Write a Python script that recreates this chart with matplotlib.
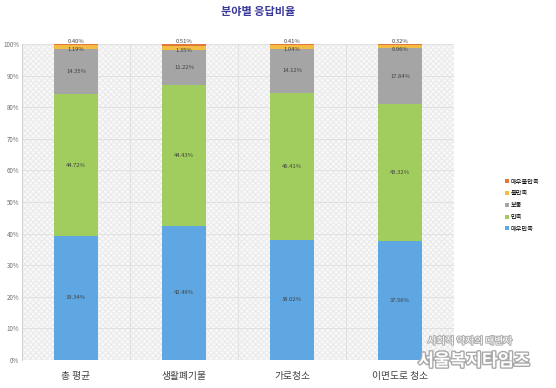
import matplotlib.pyplot as plt
import matplotlib.patheffects as pe
import numpy as np

plt.rcParams['font.family'] = ['Noto Sans CJK KR', 'DejaVu Sans']

categories = ["총 평균", "생활폐기물", "가로청소", "이면도로 청소"]
series_names = ["매우만족", "만족", "보통", "불만족", "매우불만족"]
very_satisfied = [39.34, 42.49, 38.02, 37.56]
satisfied = [44.72, 44.43, 46.41, 43.32]
neutral = [14.35, 11.22, 14.12, 17.84]
dissatisfied = [1.19, 1.35, 1.04, 0.96]
very_dissatisfied = [0.40, 0.51, 0.41, 0.32]
colors = ["#5fa7e3", "#a1cd5e", "#a5a5a5", "#f3bd43", "#e2773a"]

series = [very_satisfied, satisfied, neutral, dissatisfied, very_dissatisfied]

fig = plt.figure(figsize=(5.56, 3.88), dpi=100)
ax = fig.add_axes([22 / 556, 1 - 360 / 388, 432 / 556, 316 / 388])

x = np.arange(len(categories))
ax.set_xlim(-0.5, len(categories) - 0.5)
ax.set_ylim(0, 100)

# hatched plot background
ax.set_facecolor("#fafafa")
ax.add_patch(plt.Rectangle((-0.5, 0), len(categories), 100, facecolor="none",
                           edgecolor="#ececec", hatch="xxxxxx", linewidth=0, zorder=0))
for yv in range(10, 101, 10):
    ax.axhline(yv, color="#dedede", linewidth=0.6, zorder=1)
for xv in x[:-1] + 0.5:
    ax.axvline(xv, color="#dedede", linewidth=0.6, zorder=1)

# small top segments: nudge labels apart a little (they overlap in the original)
nudge = [0, 0, 0, -0.9, 0.9]

bottom = np.zeros(len(categories))
for name, vals, c, dy in zip(series_names, series, colors, nudge):
    vals = np.array(vals)
    ax.bar(x, vals, width=0.4, bottom=bottom, color=c, label=name, zorder=2)
    for xi, b, v in zip(x, bottom, vals):
        ax.text(xi, b + v / 2 + dy, f"{v:.2f}%", ha="center", va="center",
                fontsize=4.2, color="#404040", zorder=3)
    bottom += vals

ax.set_xticks(x)
ax.set_xticklabels(categories, fontsize=7, color="#404040")
ax.set_yticks(range(0, 101, 10))
ax.set_yticklabels([f"{v}%" for v in range(0, 101, 10)], fontsize=4.5, color="#707070")
ax.tick_params(length=0, pad=2)
ax.tick_params(axis="x", pad=8)
for s in ["top", "right", "bottom"]:
    ax.spines[s].set_visible(False)
ax.spines["left"].set_color("#d0d0d0")
ax.spines["left"].set_linewidth(0.7)

fig.text(258 / 556, 1 - 12 / 388, "분야별 응답비율", ha="center", va="center",
         fontsize=8, fontweight="bold", color="#3a3a9a")

handles, labels = ax.get_legend_handles_labels()
fig.legend(handles[::-1], labels[::-1], loc="center left",
           bbox_to_anchor=(505 / 556, 1 - 205 / 388), frameon=False, fontsize=4.5,
           handlelength=0.6, handleheight=0.6, handletextpad=0.3, labelspacing=0.6,
           borderaxespad=0, borderpad=0)

# watermark
fig.text(470 / 556, 1 - 341 / 388, "사회적 약자의 대변자", ha="center", va="center",
         fontsize=7, color="white",
         path_effects=[pe.withStroke(linewidth=1.5, foreground="#b0b0b0")])
fig.text(474 / 556, 1 - 361 / 388, "서울복지타임즈", ha="center", va="center",
         fontsize=12.5, fontweight="bold", color="white",
         path_effects=[pe.withStroke(linewidth=2, foreground="#a8a8a8")])

fig.savefig("out.png", dpi=100)
